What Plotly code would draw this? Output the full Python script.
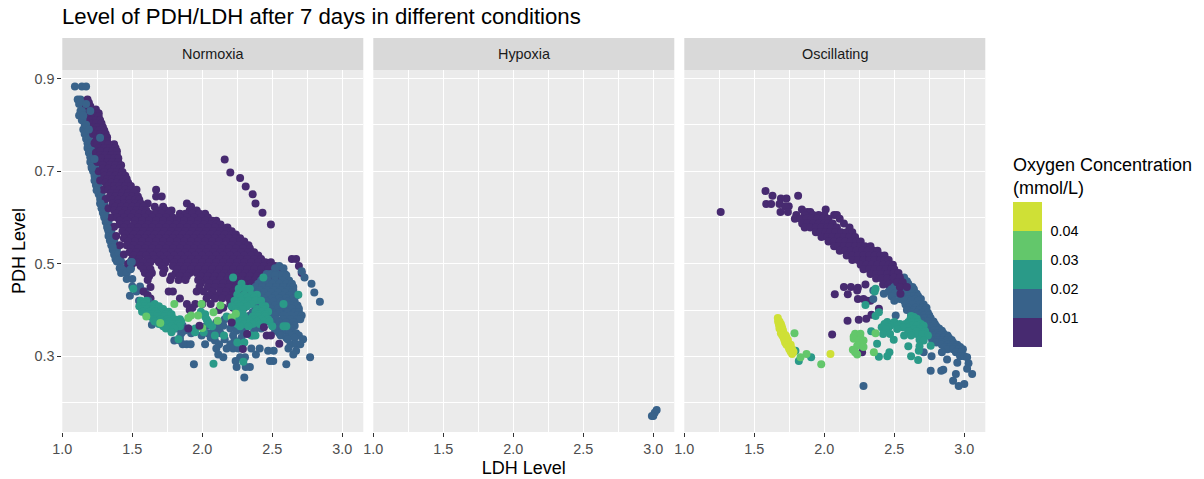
import plotly.graph_objects as go

W, H = 1204, 479
panels = ["Normoxia", "Hypoxia", "Oscillating"]
oxygen_bins = [0.005, 0.015, 0.025, 0.035, 0.045]
bin_colors = ["#472A70", "#38628A", "#2A9A88", "#63C76B", "#CFE036"]
oxygen_ticks = [0.01, 0.02, 0.03, 0.04]
ldh_ticks = [1.0, 1.5, 2.0, 2.5, 3.0]
pdh_ticks = [0.3, 0.5, 0.7, 0.9]

# Values. Each dict: PDH level -> LDH levels seen near that PDH level.
normoxia_blue_under = {
    0.883: [1.09, 1.14, 1.17], 0.855: [1.11, 1.13], 0.845: [1.15, 1.18, 1.12], 0.83: [1.13, 1.17],
    0.82: [1.15, 1.12], 0.81: [1.14, 1.18], 0.80: [1.16, 1.19], 0.79: [1.15, 1.17], 0.78: [1.18, 1.16], 0.77: [1.17, 1.19],
    0.76: [1.18, 1.20], 0.75: [1.18, 1.21], 0.74: [1.19, 1.21], 0.73: [1.20, 1.22], 0.72: [1.20, 1.23], 0.71: [1.21, 1.24],
    0.70: [1.22, 1.24], 0.69: [1.23, 1.25], 0.68: [1.23, 1.26], 0.67: [1.24, 1.26], 0.66: [1.25, 1.27], 0.65: [1.26, 1.28],
    0.64: [1.27, 1.29], 0.63: [1.27, 1.30], 0.62: [1.28, 1.30], 0.61: [1.29, 1.31], 0.60: [1.30, 1.32], 0.59: [1.31, 1.33],
    0.58: [1.32, 1.34], 0.57: [1.33, 1.35], 0.56: [1.33, 1.36], 0.55: [1.34, 1.37], 0.54: [1.35, 1.38], 0.53: [1.36, 1.39],
    0.52: [1.37, 1.40], 0.51: [1.38, 1.41], 0.505: [1.39, 1.42, 1.49], 0.49: [1.41, 1.44, 1.49], 0.48: [1.42, 1.46],
    0.467: [1.46, 1.50], 0.451: [1.50, 1.555], 0.44: [1.53, 1.59], 0.431: [1.483],
}
normoxia_purple_left = {
    0.78: [1.22], 0.76: [1.23], 0.74: [1.24], 0.72: [1.25], 0.70: [1.26], 0.68: [1.27], 0.66: [1.295], 0.64: [1.31],
    0.62: [1.33], 0.60: [1.35], 0.58: [1.37], 0.56: [1.385], 0.54: [1.41], 0.52: [1.44], 0.50: [1.47, 1.50],
}
normoxia_purple = {
    0.855: [1.18], 0.848: [1.19], 0.84: [1.17, 1.20], 0.833: [1.21, 1.24], 0.825: [1.19, 1.22, 1.26],
    0.818: [1.20, 1.23, 1.26], 0.81: [1.20, 1.24, 1.27], 0.803: [1.21, 1.24, 1.28], 0.795: [1.22, 1.25, 1.29],
    0.788: [1.23, 1.26, 1.30], 0.78: [1.24, 1.27, 1.31], 0.773: [1.25, 1.29, 1.32], 0.765: [1.24, 1.28, 1.32],
    0.758: [1.25, 1.29, 1.33, 1.37], 0.75: [1.26, 1.30, 1.34, 1.38], 0.743: [1.27, 1.32, 1.36, 1.39],
    0.735: [1.27, 1.31, 1.35, 1.39], 0.728: [1.28, 1.33, 1.37, 1.40], 0.72: [1.28, 1.32, 1.36, 1.40],
    0.713: [1.29, 1.34, 1.38, 1.42], 0.705: [1.29, 1.33, 1.37, 1.41], 0.698: [1.30, 1.35, 1.39, 1.43],
    0.69: [1.30, 1.34, 1.38, 1.42, 1.45], 0.683: [1.32, 1.36, 1.40, 1.44, 1.46],
    0.675: [1.31, 1.35, 1.39, 1.43, 1.47], 0.668: [1.33, 1.37, 1.41, 1.45, 1.49],
    0.66: [1.33, 1.37, 1.41, 1.45, 1.49, 1.53, 1.67], 0.653: [1.35, 1.39, 1.43, 1.47, 1.51],
    0.645: [1.34, 1.38, 1.42, 1.46, 1.50, 1.54, 1.67, 1.71], 0.638: [1.36, 1.40, 1.44, 1.48, 1.52, 1.55],
    0.63: [1.36, 1.40, 1.44, 1.48, 1.52, 1.56, 1.61, 1.89], 0.623: [1.38, 1.42, 1.46, 1.50, 1.54, 1.58, 1.66, 1.72, 1.92],
    0.615: [1.37, 1.41, 1.45, 1.49, 1.53, 1.57, 1.60, 1.68, 1.74, 1.78, 1.91, 1.96],
    0.608: [1.39, 1.43, 1.47, 1.51, 1.55, 1.59, 1.62, 1.66, 1.71, 1.76, 1.84, 1.88, 1.93, 1.98, 2.02],
    0.60: [1.39, 1.44, 1.49, 1.54, 1.59, 1.64, 1.69, 1.74, 1.79, 1.84, 1.89, 1.94, 1.99, 2.04],
    0.593: [1.41, 1.46, 1.52, 1.57, 1.62, 1.67, 1.72, 1.77, 1.82, 1.87, 1.92, 1.97, 2.02, 2.07, 2.10],
    0.585: [1.41, 1.46, 1.51, 1.56, 1.61, 1.66, 1.71, 1.76, 1.81, 1.86, 1.91, 1.96, 2.01, 2.06, 2.10, 2.13],
    0.578: [1.44, 1.49, 1.54, 1.59, 1.64, 1.69, 1.74, 1.79, 1.84, 1.89, 1.94, 1.99, 2.04, 2.09, 2.14, 2.18],
    0.57: [1.43, 1.48, 1.53, 1.58, 1.63, 1.68, 1.73, 1.78, 1.83, 1.88, 1.93, 1.98, 2.03, 2.08, 2.13, 2.18, 2.21],
    0.563: [1.45, 1.51, 1.56, 1.61, 1.66, 1.71, 1.76, 1.81, 1.86, 1.91, 1.96, 2.01, 2.06, 2.11, 2.16, 2.21, 2.24],
    0.555: [1.44, 1.49, 1.54, 1.59, 1.64, 1.69, 1.74, 1.79, 1.84, 1.89, 1.94, 1.99, 2.04, 2.09, 2.14, 2.19, 2.24, 2.27],
    0.548: [1.47, 1.52, 1.57, 1.62, 1.67, 1.72, 1.77, 1.82, 1.87, 1.92, 1.97, 2.02, 2.07, 2.12, 2.17, 2.22, 2.27, 2.30],
    0.54: [1.46, 1.51, 1.56, 1.61, 1.66, 1.71, 1.76, 1.81, 1.86, 1.91, 1.96, 2.01, 2.06, 2.11, 2.16, 2.21, 2.26, 2.31, 2.33],
    0.533: [1.49, 1.54, 1.59, 1.64, 1.69, 1.74, 1.79, 1.84, 1.89, 1.94, 1.99, 2.04, 2.09, 2.14, 2.19, 2.24, 2.29, 2.34],
    0.525: [1.48, 1.53, 1.58, 1.63, 1.68, 1.73, 1.78, 1.83, 1.88, 1.93, 1.98, 2.03, 2.08, 2.13, 2.18, 2.23, 2.28, 2.33, 2.37],
    0.518: [1.51, 1.56, 1.60, 1.65, 1.70, 1.75, 1.80, 1.85, 1.90, 1.95, 2.00, 2.05, 2.10, 2.15, 2.20, 2.25, 2.30, 2.35, 2.40],
    0.51: [1.50, 1.55, 1.61, 1.66, 1.72, 1.77, 1.82, 1.87, 1.92, 1.97, 2.02, 2.07, 2.12, 2.17, 2.22, 2.27, 2.32, 2.37, 2.42, 2.64, 2.67],
    0.503: [1.53, 1.58, 1.63, 1.69, 1.74, 1.80, 1.85, 1.90, 1.95, 2.00, 2.05, 2.10, 2.15, 2.20, 2.25, 2.30, 2.35, 2.40, 2.45, 2.49],
    0.495: [1.56, 1.61, 1.71, 1.79, 1.84, 1.89, 1.94, 1.99, 2.04, 2.09, 2.14, 2.19, 2.24, 2.29, 2.34, 2.39, 2.44, 2.49, 2.52, 2.69],
    0.488: [1.58, 1.63, 1.73, 1.82, 1.87, 1.92, 1.97, 2.02, 2.07, 2.12, 2.17, 2.22, 2.27, 2.32, 2.37, 2.42, 2.47, 2.52],
    0.48: [1.59, 1.64, 1.72, 1.81, 1.86, 1.91, 1.96, 2.01, 2.06, 2.11, 2.16, 2.21, 2.26, 2.31, 2.36, 2.41, 2.46, 2.51, 2.55, 2.71],
    0.473: [1.62, 1.78, 1.84, 1.89, 1.99, 2.04, 2.09, 2.14, 2.19, 2.24, 2.29, 2.34, 2.39, 2.44, 2.49, 2.54],
    0.465: [1.61, 1.77, 1.83, 1.88, 1.97, 2.03, 2.08, 2.13, 2.18, 2.23, 2.28, 2.33, 2.38, 2.43, 2.48, 2.53, 2.56],
    0.458: [1.99, 2.05, 2.10, 2.15, 2.20, 2.25, 2.30, 2.35, 2.40, 2.45, 2.50],
    0.45: [1.63, 1.98, 2.04, 2.09, 2.14, 2.19, 2.24, 2.29, 2.34, 2.39, 2.44, 2.49],
    0.44: [1.58, 1.76, 1.79, 1.96, 2.01, 2.07, 2.13, 2.17, 2.22, 2.27, 2.32, 2.37, 2.42],
    0.432: [1.61, 2.05, 2.11, 2.16, 2.21, 2.26, 2.31, 2.36, 2.40],
    0.425: [1.63, 1.84, 2.03, 2.09, 2.14, 2.19, 2.24, 2.30, 2.35],
    0.413: [1.89, 1.95, 2.00, 2.06, 2.20, 2.26],
    0.405: [1.93, 2.15, 2.22, 2.30],
    0.40: [1.91, 2.12],
}
normoxia_far_purple = {
    0.725: [2.16], 0.697: [2.20], 0.685: [2.27], 0.667: [2.31], 0.65: [2.36], 0.63: [2.38], 0.61: [2.43], 0.585: [2.49],
}
normoxia_blue_top = {
    0.85: [1.13], 0.845: [1.17], 0.83: [1.14, 1.20], 0.82: [1.15], 0.80: [1.17], 0.79: [1.19], 0.772: [1.27], 0.726: [1.23],
    0.707: [1.21], 0.659: [1.245], 0.63: [1.274], 0.603: [1.30], 0.576: [1.324], 0.536: [1.36], 0.507: [1.40], 0.504: [1.496],
}
normoxia_blue = {
    0.495: [2.55], 0.49: [2.52, 2.58], 0.484: [2.71], 0.478: [2.46, 2.49, 2.54, 2.59], 0.475: [2.46, 2.52, 2.57, 2.60],
    0.47: [2.73], 0.464: [2.42, 2.47, 2.52, 2.57, 2.62], 0.457: [2.78, 2.40, 2.45, 2.50, 2.55, 2.60, 2.64],
    0.45: [2.38, 2.43, 2.48, 2.53, 2.58, 2.63, 2.65], 0.443: [2.41, 2.46, 2.51, 2.56, 2.61, 2.65],
    0.438: [2.80, 2.39, 2.44, 2.49, 2.54, 2.59, 2.64], 0.431: [2.42, 2.47, 2.52, 2.57, 2.62, 2.67],
    0.425: [2.38, 2.44, 2.50, 2.55, 2.60, 2.65], 0.418: [2.84, 2.41, 2.46, 2.51, 2.56, 2.61, 2.66],
    0.41: [2.40, 2.47, 2.52, 2.57, 2.63, 2.68], 0.403: [2.38, 2.44, 2.49, 2.54, 2.59, 2.64, 2.69],
    0.395: [2.36, 2.44, 2.50, 2.55, 2.61, 2.66, 2.69], 0.388: [2.34, 2.42, 2.47, 2.52, 2.58, 2.63, 2.68, 2.71],
    0.38: [2.16, 2.22, 2.30, 2.40, 2.47, 2.53, 2.58, 2.63, 2.68, 2.70], 0.373: [2.10, 2.26, 2.36, 2.43, 2.50, 2.55, 2.60, 2.65],
    0.366: [1.80, 1.86, 2.03, 2.08, 2.15, 2.24, 2.34, 2.39, 2.50, 2.56, 2.61, 2.66], 0.36: [1.82, 1.90, 2.12, 2.20, 2.42, 2.54, 2.60, 2.64],
    0.355: [1.87, 2.08, 2.245, 2.29, 2.37, 2.52, 2.58, 2.63], 0.35: [1.85, 1.92, 2.04, 2.13, 2.31, 2.55, 2.62, 2.67],
    0.345: [1.995, 2.22, 2.36, 2.56, 2.64, 2.69], 0.34: [1.84, 2.06, 2.28, 2.60, 2.66], 0.337: [2.16, 2.72, 2.61],
    0.334: [1.80, 1.84, 2.09, 2.23], 0.326: [1.86, 1.888, 1.917, 2.02, 2.12, 2.20, 2.63, 2.67, 2.70],
    0.317: [2.10, 2.174, 2.22, 2.257, 2.35, 2.41, 2.615], 0.312: [2.47, 2.51, 2.67], 0.304: [2.114, 2.383, 2.65],
    0.298: [2.15, 2.305, 2.27, 2.77], 0.29: [2.238, 2.483, 2.507], 0.283: [1.94, 2.60], 0.277: [2.245, 2.34, 2.31],
    0.254: [2.30], 0.42: [1.548, 1.614], 0.368: [1.64], 0.359: [1.864], 0.37: [1.83, 1.79], 0.503: [1.49], 0.488: [1.488],
}
normoxia_teal = {
    0.47: [2.22, 2.436], 0.457: [2.28], 0.446: [1.507, 2.26, 2.31, 2.34], 0.433: [2.686, 2.25, 2.30, 2.35, 2.39],
    0.427: [2.27, 2.32, 2.37], 0.42: [1.56, 1.60, 2.23, 2.28, 2.33, 2.38, 2.42], 0.413: [2.58, 1.58, 1.66, 2.25, 2.30, 2.35],
    0.408: [1.55, 1.59, 1.63, 1.69, 2.21, 2.27, 2.32, 2.43, 2.45], 0.402: [1.57, 1.61, 1.65, 1.72, 2.24, 2.29, 2.39, 2.44],
    0.396: [1.57, 1.62, 1.66, 1.71, 1.76, 1.99, 2.25, 2.38, 2.42, 2.47], 0.391: [1.60, 1.64, 1.68, 1.74, 1.78, 2.02, 2.29, 2.40, 2.45],
    0.386: [1.63, 1.68, 1.73, 1.78, 2.02, 2.174, 2.30, 2.36, 2.40, 2.45], 0.38: [1.65, 1.70, 1.75, 1.80, 1.84, 2.03, 2.25, 2.32, 2.37, 2.42, 2.47],
    0.375: [1.66, 1.71, 1.76, 1.81, 1.85, 2.04, 2.22, 2.28, 2.34, 2.39, 2.44, 2.48], 0.37: [1.69, 1.74, 1.79, 1.83, 2.05, 2.25, 2.30, 2.36, 2.41],
    0.365: [1.72, 1.78, 1.84, 2.07, 2.27, 2.33, 2.58, 2.60, 2.50], 0.36: [1.74, 1.80, 1.95],
    0.352: [1.78, 1.948, 2.01], 0.345: [2.09, 2.155, 2.35, 2.38], 0.337: [1.83], 0.33: [2.25, 2.30], 0.284: [2.08], 0.288: [2.293],
}
normoxia_green = {
    0.413: [1.80, 1.995], 0.41: [2.13], 0.395: [2.08], 0.392: [2.24], 0.388: [1.92, 1.97], 0.386: [1.60], 0.384: [2.21],
    0.383: [1.90], 0.377: [2.11], 0.372: [1.70], 0.361: [2.0],
}
normoxia_purple_top = {
    0.373: [2.21], 0.366: [1.98], 0.363: [2.44], 0.36: [1.90], 0.348: [2.32], 0.345: [2.46, 2.49], 0.327: [2.55], 0.316: [2.29],
}

hypoxia_blue = {0.184: [3.024], 0.178: [3.01], 0.171: [3.0, 2.99]}

oscillating_purple = {
    0.657: [1.58], 0.647: [1.63, 1.813], 0.641: [1.73, 1.69], 0.629: [1.585, 1.62, 1.68], 0.624: [1.746, 1.72],
    0.617: [2.01, 1.84], 0.612: [1.26, 1.687, 1.74, 1.878, 1.90], 0.605: [1.80, 1.86, 1.92, 1.96, 2.00, 2.07, 2.09],
    0.597: [1.79, 1.83, 1.87, 1.91, 1.95, 1.99, 2.03, 2.11], 0.587: [1.842, 1.88, 1.92, 1.96, 2.00, 2.03, 2.06, 2.14],
    0.578: [1.86, 1.90, 1.94, 1.98, 2.02, 2.05, 2.09, 2.18], 0.568: [1.94, 1.97, 2.01, 2.04, 2.08, 2.12, 2.16, 2.20],
    0.558: [1.98, 2.02, 2.06, 2.10, 2.14, 2.18, 2.22], 0.548: [2.03, 2.07, 2.11, 2.15, 2.19, 2.23, 2.26],
    0.538: [2.07, 2.10, 2.14, 2.18, 2.22, 2.26, 2.29, 2.33], 0.528: [2.11, 2.15, 2.19, 2.23, 2.27, 2.31, 2.35, 2.38],
    0.518: [2.16, 2.20, 2.24, 2.28, 2.32, 2.36, 2.40, 2.43], 0.508: [2.20, 2.24, 2.28, 2.32, 2.36, 2.40, 2.43, 2.46],
    0.498: [2.26, 2.30, 2.34, 2.38, 2.42, 2.46, 2.49], 0.488: [2.28, 2.32, 2.36, 2.40, 2.44, 2.48, 2.50],
    0.478: [2.33, 2.37, 2.41, 2.45, 2.49, 2.52], 0.468: [2.37, 2.41, 2.45, 2.49, 2.53, 2.56],
    0.455: [2.294, 2.42, 2.46, 2.50, 2.54], 0.45: [2.14, 2.19], 0.448: [2.24, 2.47, 2.53], 0.442: [2.235],
    0.434: [2.075, 2.168], 0.424: [2.24, 2.28], 0.42: [2.306, 2.33],
    0.403: [2.39], 0.39: [2.337], 0.381: [2.30], 0.379: [2.246], 0.377: [2.166], 0.347: [2.056], 0.309: [2.27],
}
oscillating_blue = {
    0.47: [2.57], 0.462: [2.55, 2.59], 0.457: [2.56, 2.60], 0.45: [2.50, 2.59, 2.63],
    0.445: [2.48, 2.55, 2.60, 2.64], 0.44: [2.46, 2.52, 2.57, 2.62], 0.435: [2.425, 2.50, 2.58, 2.62, 2.66],
    0.43: [2.48, 2.55, 2.60, 2.64, 2.67], 0.424: [2.35, 2.54, 2.60, 2.65, 2.69], 0.42: [2.50, 2.57, 2.62, 2.67],
    0.412: [2.58, 2.63, 2.68, 2.71], 0.405: [2.60, 2.65, 2.70, 2.73], 0.40: [2.59, 2.64, 2.68, 2.72],
    0.394: [2.62, 2.66, 2.70, 2.74], 0.388: [2.51, 2.62, 2.67, 2.71, 2.75], 0.382: [2.64, 2.68, 2.72, 2.76],
    0.375: [2.66, 2.70, 2.74, 2.78], 0.37: [2.68, 2.72, 2.76, 2.79], 0.365: [2.68, 2.72, 2.76, 2.80], 0.36: [2.70, 2.74, 2.78, 2.82],
    0.355: [2.70, 2.74, 2.78, 2.81, 2.84], 0.35: [2.73, 2.77, 2.81, 2.85], 0.345: [2.74, 2.78, 2.82, 2.86, 2.88],
    0.34: [2.77, 2.81, 2.85, 2.89], 0.335: [2.77, 2.81, 2.85, 2.88, 2.91], 0.33: [2.80, 2.84, 2.88, 2.92],
    0.325: [2.84, 2.88, 2.92, 2.95], 0.32: [2.86, 2.90, 2.94, 2.97], 0.315: [2.88, 2.92, 2.96, 2.99],
    0.309: [2.71, 2.84, 2.94, 2.98], 0.30: [2.766, 2.97, 3.0],
    0.298: [3.02], 0.293: [2.877], 0.286: [2.95], 0.285: [3.03], 0.273: [3.02], 0.271: [2.85], 0.269: [2.76, 2.835],
    0.262: [2.94, 3.056], 0.247: [2.92], 0.24: [3.0], 0.236: [2.96, 2.28], 0.442: [2.35],
}
oscillating_purple_top = {
    0.48: [2.50, 2.53], 0.47: [2.50, 2.54], 0.46: [2.52, 2.56], 0.45: [2.54, 2.59], 0.435: [2.544],
}
oscillating_teal = {
    0.446: [2.366], 0.44: [2.36], 0.411: [2.294], 0.395: [2.39], 0.387: [2.366, 2.62], 0.385: [2.64], 0.381: [2.616, 2.66],
    0.374: [2.45, 2.50, 2.60, 2.63, 2.67], 0.37: [2.54, 2.69, 2.43, 2.58], 0.366: [2.47, 2.52, 2.62, 2.66, 2.71],
    0.363: [2.41, 2.59, 2.46, 2.56], 0.359: [2.52, 2.64, 2.44, 2.68], 0.354: [2.335, 2.60, 2.66, 2.72],
    0.348: [2.42, 2.66, 2.47, 2.70], 0.345: [2.57, 2.62, 2.74], 0.336: [2.496, 2.68], 0.334: [2.71], 0.327: [2.377], 0.323: [2.76],
    0.322: [2.60, 2.68], 0.312: [2.675, 1.794], 0.309: [2.465], 0.30: [2.62, 2.45], 0.299: [2.39], 0.298: [1.906], 0.292: [2.67], 0.29: [1.818],
}
oscillating_green = {
    0.35: [1.787, 2.366], 0.349: [2.22, 2.258], 0.343: [2.24, 2.21], 0.338: [2.21, 2.26], 0.334: [2.246, 2.28], 0.323: [2.235], 0.32: [2.28],
    0.314: [2.204], 0.309: [2.354, 2.22], 0.305: [1.873], 0.304: [2.235], 0.298: [1.83], 0.283: [1.978],
}
oscillating_yellow = {
    0.383: [1.668], 0.375: [1.67, 1.68], 0.37: [1.675, 1.69], 0.365: [1.68, 1.695], 0.36: [1.68, 1.70], 0.355: [1.69, 1.705],
    0.35: [1.69, 1.71], 0.345: [1.70, 1.725], 0.34: [1.71, 1.73], 0.335: [1.715, 1.74], 0.33: [1.72, 1.74], 0.325: [1.73, 1.76],
    0.32: [1.745, 1.76], 0.315: [1.75, 1.77], 0.31: [1.76, 1.78], 0.305: [1.77, 2.044],
}

normoxia_layers = [(normoxia_blue_under, 1), (normoxia_purple_left, 0), (normoxia_purple, 0), (normoxia_far_purple, 0),
                   (normoxia_blue_top, 1), (normoxia_blue, 1), (normoxia_teal, 2), (normoxia_green, 3),
                   (normoxia_purple_top, 0)]
hypoxia_layers = [(hypoxia_blue, 1)]
oscillating_layers = [(oscillating_purple, 0), (oscillating_blue, 1), (oscillating_purple_top, 0), (oscillating_teal, 2),
                      (oscillating_green, 3), (oscillating_yellow, 4)]


def unzip(rows):
    xs, ys = [], []
    for pdh, ldhs in rows.items():
        for ldh in ldhs:
            xs.append(ldh)
            ys.append(pdh)
    return xs, ys


fig = go.Figure()
for idx, layers in enumerate([normoxia_layers, hypoxia_layers, oscillating_layers], start=1):
    for rows, b in layers:
        xs, ys = unzip(rows)
        fig.add_trace(go.Scatter(
            x=xs, y=ys, mode="markers", xaxis=f"x{idx}", yaxis=f"y{idx}", showlegend=False,
            marker=dict(size=8, color=[oxygen_bins[b]] * len(xs), coloraxis="coloraxis", line=dict(width=0)),
        ))

font = "Liberation Sans, Arial, sans-serif"
panel_left = [62.3, 373.3, 684.3]
panel_w = 301.0
top, bottom = 70.0, 432.0
scale = []
for i in range(5):
    scale += [[i / 5, bin_colors[i]], [(i + 1) / 5, bin_colors[i]]]

layout = dict(
    width=W, height=H, margin=dict(l=0, r=0, t=0, b=0, autoexpand=False), autosize=False,
    paper_bgcolor="white", plot_bgcolor="#EBEBEB",
    font=dict(family=font, color="black"),
    title=dict(text="Level of PDH/LDH after 7 days in different conditions", x=62 / W, xanchor="left",
               xref="paper", y=1 - 16 / H, yanchor="middle", font=dict(size=22.2, color="black", family=font)),
    coloraxis=dict(cmin=0, cmax=0.05, colorscale=scale, colorbar=dict(
        thickness=29, thicknessmode="pixels", len=193, lenmode="pixels", x=1013 / W, xanchor="left",
        y=1 - 347 / H, yanchor="bottom", xpad=0, ypad=0, outlinewidth=0, ticks="outside", ticklen=6,
        tickcolor="rgba(0,0,0,0)", tickvals=oxygen_ticks,
        ticktext=[f"{t:.2f}" for t in oxygen_ticks], tickfont=dict(size=14.4, color="black", family=font),
        title=dict(text="Oxygen Concentration<br>(mmol/L)", side="top", font=dict(size=18, color="black", family=font)),
    )),
    shapes=[], annotations=[],
)
for i, name in enumerate(panels):
    n = i + 1
    layout[f"xaxis{n}"] = dict(
        domain=[panel_left[i] / W, (panel_left[i] + panel_w) / W], range=[1.0, 3.15], anchor=f"y{n}",
        tickmode="array", tickvals=ldh_ticks, ticktext=[f"{t:.1f}" for t in ldh_ticks], ticks="outside", ticklen=4,
        tickwidth=1.4, tickcolor="#333333", tickfont=dict(size=14.4, color="#4D4D4D"), showgrid=True, gridcolor="white",
        gridwidth=1.4, zeroline=False, showline=False,
        minor=dict(tickvals=[1.25, 1.75, 2.25, 2.75], showgrid=True, gridcolor="white", gridwidth=0.7, ticks=""),
    )
    layout[f"yaxis{n}"] = dict(
        domain=[1 - bottom / H, 1 - top / H], range=[0.1365, 0.9185], anchor=f"x{n}",
        tickmode="array", tickvals=pdh_ticks, ticktext=[f"{t:.1f}" for t in pdh_ticks],
        ticks="outside" if i == 0 else "", ticklen=4, tickwidth=1.4, tickcolor="#333333",
        showticklabels=i == 0, tickfont=dict(size=14.4, color="#4D4D4D"), showgrid=True, gridcolor="white",
        gridwidth=1.4, zeroline=False, showline=False,
        minor=dict(tickvals=[0.2, 0.4, 0.6, 0.8], showgrid=True, gridcolor="white", gridwidth=0.7, ticks=""),
    )
    layout["shapes"].append(dict(type="rect", xref="paper", yref="paper", x0=panel_left[i] / W,
                                 x1=(panel_left[i] + panel_w) / W, y0=1 - 70 / H, y1=1 - 38 / H,
                                 fillcolor="#D9D9D9", line=dict(width=0)))
    layout["annotations"].append(dict(text=name, xref="paper", yref="paper", x=(panel_left[i] + panel_w / 2) / W,
                                      y=1 - 54 / H, showarrow=False, xanchor="center", yanchor="middle",
                                      font=dict(size=14.4, color="#1A1A1A", family=font)))
layout["xaxis2"]["title"] = dict(text="LDH Level", font=dict(size=18, color="black", family=font), standoff=5)
layout["yaxis1"]["title"] = dict(text="PDH Level", font=dict(size=18, color="black", family=font), standoff=4)
fig.update_layout(**layout)
fig.write_html("out.html", config={"displayModeBar": False},
               post_script="document.body.style.margin='0';document.body.style.overflow='hidden';")
